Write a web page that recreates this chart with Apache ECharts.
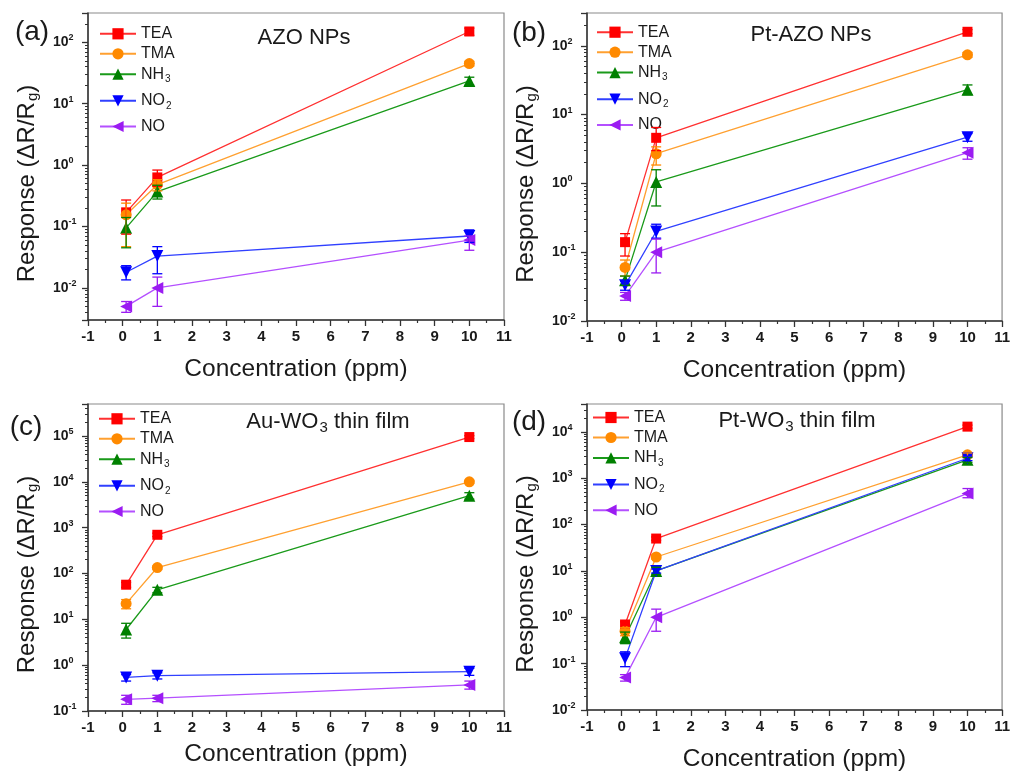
<!DOCTYPE html>
<html>
<head>
<meta charset="utf-8">
<script src="https://cdn.jsdelivr.net/npm/echarts@6/dist/echarts.min.js"></script>
<style>
html,body{margin:0;padding:0;background:#fff;}
#chart{width:1013px;height:773px;}
</style>
</head>
<body>
<div id="chart"></div>
<script>
// ---------- data ----------
const xValues = [0.1, 1, 10];
const gases = ['TEA', 'TMA', 'NH3', 'NO2', 'NO'];
const xTicks = [-1, 0, 1, 2, 3, 4, 5, 6, 7, 8, 9, 10, 11];

// (a) AZO NPs
const A_TEA = [0.17, 0.63, 150],  A_TEA_LO = [0.075, 0.45, 130],  A_TEA_HI = [0.27, 0.83, 170];
const A_TMA = [0.155, 0.48, 45],  A_TMA_LO = [0.047, 0.38, 41],   A_TMA_HI = [0.24, 0.58, 49];
const A_NH3 = [0.095, 0.37, 23.5],A_NH3_LO = [0.045, 0.28, 20],   A_NH3_HI = [0.14, 0.47, 27];
const A_NO2 = [0.018, 0.033, 0.07], A_NO2_LO = [0.0135, 0.017, 0.055], A_NO2_HI = [0.023, 0.047, 0.088];
const A_NO  = [0.005, 0.01, 0.06],  A_NO_LO  = [0.004, 0.005, 0.041],  A_NO_HI  = [0.006, 0.015, 0.07];

// (b) Pt-AZO NPs
const B_TEA = [0.14, 4.6, 160],   B_TEA_LO = [0.088, 3.0, 150],  B_TEA_HI = [0.186, 6.5, 172];
const B_TMA = [0.06, 2.7, 74],    B_TMA_LO = [0.045, 1.85, 68],  B_TMA_HI = [0.077, 3.4, 80];
const B_NH3 = [0.039, 1.05, 23],  B_NH3_LO = [0.033, 0.47, 19.5],B_NH3_HI = [0.045, 1.58, 27];
const B_NO2 = [0.033, 0.2, 4.7],  B_NO2_LO = [0.028, 0.16, 4.1], B_NO2_HI = [0.038, 0.255, 5.3];
const B_NO  = [0.023, 0.1, 2.8],  B_NO_LO  = [0.020, 0.05, 2.25],B_NO_HI  = [0.026, 0.155, 3.3];

// (c) Au-WO3 thin film
const C_TEA = [57, 700, 95000],   C_TEA_LO = [50, 640, 88000],   C_TEA_HI = [64, 760, 102000];
const C_TMA = [22, 135, 10000],   C_TMA_LO = [17, 125, 9300],    C_TMA_HI = [27, 145, 10700];
const C_NH3 = [6, 44, 5000],      C_NH3_LO = [3.9, 38, 4200],    C_NH3_HI = [8.2, 50, 5800];
const C_NO2 = [0.54, 0.59, 0.72], C_NO2_LO = [0.45, 0.5, 0.6],   C_NO2_HI = [0.62, 0.68, 0.85];
const C_NO  = [0.18, 0.19, 0.37], C_NO_LO  = [0.14, 0.16, 0.3],  C_NO_HI  = [0.22, 0.22, 0.45];

// (d) Pt-WO3 thin film
const D_TEA = [0.7, 50, 13000],   D_TEA_LO = [0.6, 46, 12000],   D_TEA_HI = [0.8, 54, 14000];
const D_TMA = [0.5, 20, 3200],    D_TMA_LO = [0.4, 18, 2900],    D_TMA_HI = [0.6, 22, 3500];
const D_NH3 = [0.37, 10, 2500],   D_NH3_LO = [0.27, 8.5, 2200],  D_NH3_HI = [0.48, 12, 2800];
const D_NO2 = [0.13, 10, 2700],   D_NO2_LO = [0.086, 9, 2400],   D_NO2_HI = [0.18, 11, 3000];
const D_NO  = [0.05, 1, 470],     D_NO_LO  = [0.042, 0.5, 380],  D_NO_HI  = [0.058, 1.5, 600];

const panelTitles = ['AZO NPs', 'Pt-AZO NPs', 'Au-WO{sub|3} thin film', 'Pt-WO{sub|3} thin film'];
const panelLetters = ['(a)', '(b)', '(c)', '(d)'];
const yMins = [0.003, 0.01, 0.1, 0.01];
const yMaxs = [300, 300, 500000, 40000];

// ---------- assembly ----------
const panelData = [
  [[A_TEA, A_TEA_LO, A_TEA_HI], [A_TMA, A_TMA_LO, A_TMA_HI], [A_NH3, A_NH3_LO, A_NH3_HI], [A_NO2, A_NO2_LO, A_NO2_HI], [A_NO, A_NO_LO, A_NO_HI]],
  [[B_TEA, B_TEA_LO, B_TEA_HI], [B_TMA, B_TMA_LO, B_TMA_HI], [B_NH3, B_NH3_LO, B_NH3_HI], [B_NO2, B_NO2_LO, B_NO2_HI], [B_NO, B_NO_LO, B_NO_HI]],
  [[C_TEA, C_TEA_LO, C_TEA_HI], [C_TMA, C_TMA_LO, C_TMA_HI], [C_NH3, C_NH3_LO, C_NH3_HI], [C_NO2, C_NO2_LO, C_NO2_HI], [C_NO, C_NO_LO, C_NO_HI]],
  [[D_TEA, D_TEA_LO, D_TEA_HI], [D_TMA, D_TMA_LO, D_TMA_HI], [D_NH3, D_NH3_LO, D_NH3_HI], [D_NO2, D_NO2_LO, D_NO2_HI], [D_NO, D_NO_LO, D_NO_HI]]
];

const FONT = 'Arial, "Liberation Sans", sans-serif';
const markerColors = ['#ff0000', '#ff8a00', '#008000', '#0000ff', '#9b1cf2'];
const lineColors   = ['#ff3030', '#ffa030', '#1a9a1a', '#3040ff', '#b450ff'];
const symbols      = ['rect', 'circle', 'triangle', 'triangle', 'triangle'];
const symbolRot    = [0, 0, 0, 180, 90];
const symbolSizes  = [10, 11, 12, 12, 12];

const grids = [
  {left: 88, top: 13, width: 416, height: 307},
  {left: 587, top: 13, width: 416, height: 308},
  {left: 88, top: 404, width: 416, height: 307},
  {left: 587, top: 404, width: 416, height: 307}
];
const xNameGaps = [37, 37, 31, 37];
const legendLefts = [99, 596, 98, 592];
const legendFirstCenters = [32.3, 30.7, 417.3, 416];
const legendRowOffsets = [0, 20, 40.4, 67, 92.7];
const titlePos = [[304, 38], [811, 35], [328, 422], [797, 421]];
const letterPos = [[32, 32], [529, 33], [26, 427], [529, 422]];

function yLabel(v) {
  const e = Math.log10(v);
  const r = Math.round(e);
  if (Math.abs(e - r) > 1e-6) return '';
  return '{b|10}{s|' + r + '}';
}
function legendFmt(name) {
  if (name === 'NH3') return 'NH{sub|3}';
  if (name === 'NO2') return 'NO{sub|2}';
  return name;
}

const option = {
  animation: false,
  backgroundColor: '#fff',
  textStyle: {fontFamily: FONT},
  grid: grids.map(g => Object.assign({show: true, borderColor: '#8a8a8a', borderWidth: 1.2, backgroundColor: 'transparent'}, g)),
  xAxis: grids.map((g, i) => ({
    type: 'value', gridIndex: i, min: xTicks[0], max: xTicks[xTicks.length - 1], interval: 1,
    name: 'Concentration (ppm)', nameLocation: 'middle', nameGap: xNameGaps[i],
    nameTextStyle: {fontSize: 24.5, color: '#1a1a1a', fontFamily: FONT},
    axisLine: {show: true, onZero: false, lineStyle: {color: '#333', width: 1.5}},
    axisTick: {show: true, inside: false, length: 6, lineStyle: {color: '#333', width: 1.3}},
    minorTick: {show: true, splitNumber: 2, length: 3, lineStyle: {color: '#333', width: 1.2}},
    axisLabel: {fontSize: 15, fontWeight: 'bold', color: '#1a1a1a', margin: 9, fontFamily: FONT,
      formatter: v => String(v)},
    splitLine: {show: false}
  })),
  yAxis: grids.map((g, i) => ({
    type: 'log', logBase: 10, gridIndex: i, min: yMins[i], max: yMaxs[i],
    name: 'Response (ΔR/R{sub|g})', nameLocation: 'middle', nameRotate: 90, nameGap: 48,
    nameTextStyle: {fontSize: 24, color: '#1a1a1a', fontFamily: FONT, padding: [0, 34, 0, 0],
      rich: {sub: {fontSize: 15, color: '#1a1a1a', fontFamily: FONT, padding: [10, 0, 0, 1]}}},
    axisLine: {show: true, onZero: false, lineStyle: {color: '#333', width: 1.5}},
    axisTick: {show: true, inside: false, length: 6, lineStyle: {color: '#333', width: 1.3}},
    minorTick: {show: true, splitNumber: 9, length: 3, lineStyle: {color: '#333', width: 1}},
    axisLabel: {align: 'left', margin: 35, showMinLabel: true, showMaxLabel: true, formatter: yLabel,
      rich: {
        b: {fontSize: 14, fontWeight: 'bold', color: '#1a1a1a', fontFamily: FONT, lineHeight: 18},
        s: {fontSize: 9, fontWeight: 'bold', color: '#1a1a1a', fontFamily: FONT, verticalAlign: 'top', lineHeight: 10}
      }},
    splitLine: {show: false}
  })),
  legend: [],
  graphic: [],
  series: []
};

panelData.forEach((panel, p) => {
  panel.forEach((triple, k) => {
    const vals = triple[0], lo = triple[1], hi = triple[2];
    option.series.push({
      type: 'line', name: gases[k], xAxisIndex: p, yAxisIndex: p, z: 3,
      data: xValues.map((x, j) => [x, vals[j]]),
      symbol: symbols[k], symbolRotate: symbolRot[k], symbolSize: symbolSizes[k],
      itemStyle: {color: markerColors[k]},
      lineStyle: {color: lineColors[k], width: 1.3},
      emphasis: {disabled: true}
    });
    option.series.push({
      type: 'custom', name: 'err-' + gases[k] + '-' + p, xAxisIndex: p, yAxisIndex: p, z: 4,
      data: xValues.map((x, j) => [x, lo[j], hi[j]]),
      encode: {x: 0, y: [1, 2]},
      renderItem: (params, api) => {
        const x = api.value(0);
        const a = api.coord([x, api.value(1)]);
        const b = api.coord([x, api.value(2)]);
        const c = markerColors[k];
        const w = 5;
        const st = {stroke: c, lineWidth: 1.3};
        return {type: 'group', children: [
          {type: 'line', shape: {x1: a[0], y1: a[1], x2: b[0], y2: b[1]}, style: st},
          {type: 'line', shape: {x1: a[0] - w, y1: a[1], x2: a[0] + w, y2: a[1]}, style: st},
          {type: 'line', shape: {x1: b[0] - w, y1: b[1], x2: b[0] + w, y2: b[1]}, style: st}
        ]};
      }
    });
    option.legend.push({
      data: [gases[k]], left: legendLefts[p], top: legendFirstCenters[p] + legendRowOffsets[k] - 7.5,
      padding: 0, orient: 'vertical', itemWidth: 36, itemHeight: 14, itemGap: 0, selectedMode: false,
      formatter: legendFmt,
      textStyle: {fontSize: 16, color: '#1a1a1a', fontFamily: FONT, lineHeight: 18,
        rich: {sub: {fontSize: 10, color: '#1a1a1a', fontFamily: FONT, padding: [10, 0, 0, 1]}}}
    });
  });
  option.graphic.push({
    type: 'text', x: titlePos[p][0], y: titlePos[p][1],
    style: {text: panelTitles[p], align: 'center', verticalAlign: 'middle', fill: '#1a1a1a',
      fontSize: 22, fontFamily: FONT,
      rich: {sub: {fontSize: 15, fill: '#1a1a1a', fontFamily: FONT, padding: [12, 0, 0, 1]}}}
  });
  option.graphic.push({
    type: 'text', x: letterPos[p][0], y: letterPos[p][1],
    style: {text: panelLetters[p], align: 'center', verticalAlign: 'middle', fill: '#1a1a1a',
      fontSize: 28, fontFamily: FONT}
  });
});

const chart = echarts.init(document.getElementById('chart'), null, {renderer: 'canvas'});
chart.setOption(option);
</script>
</body>
</html>
